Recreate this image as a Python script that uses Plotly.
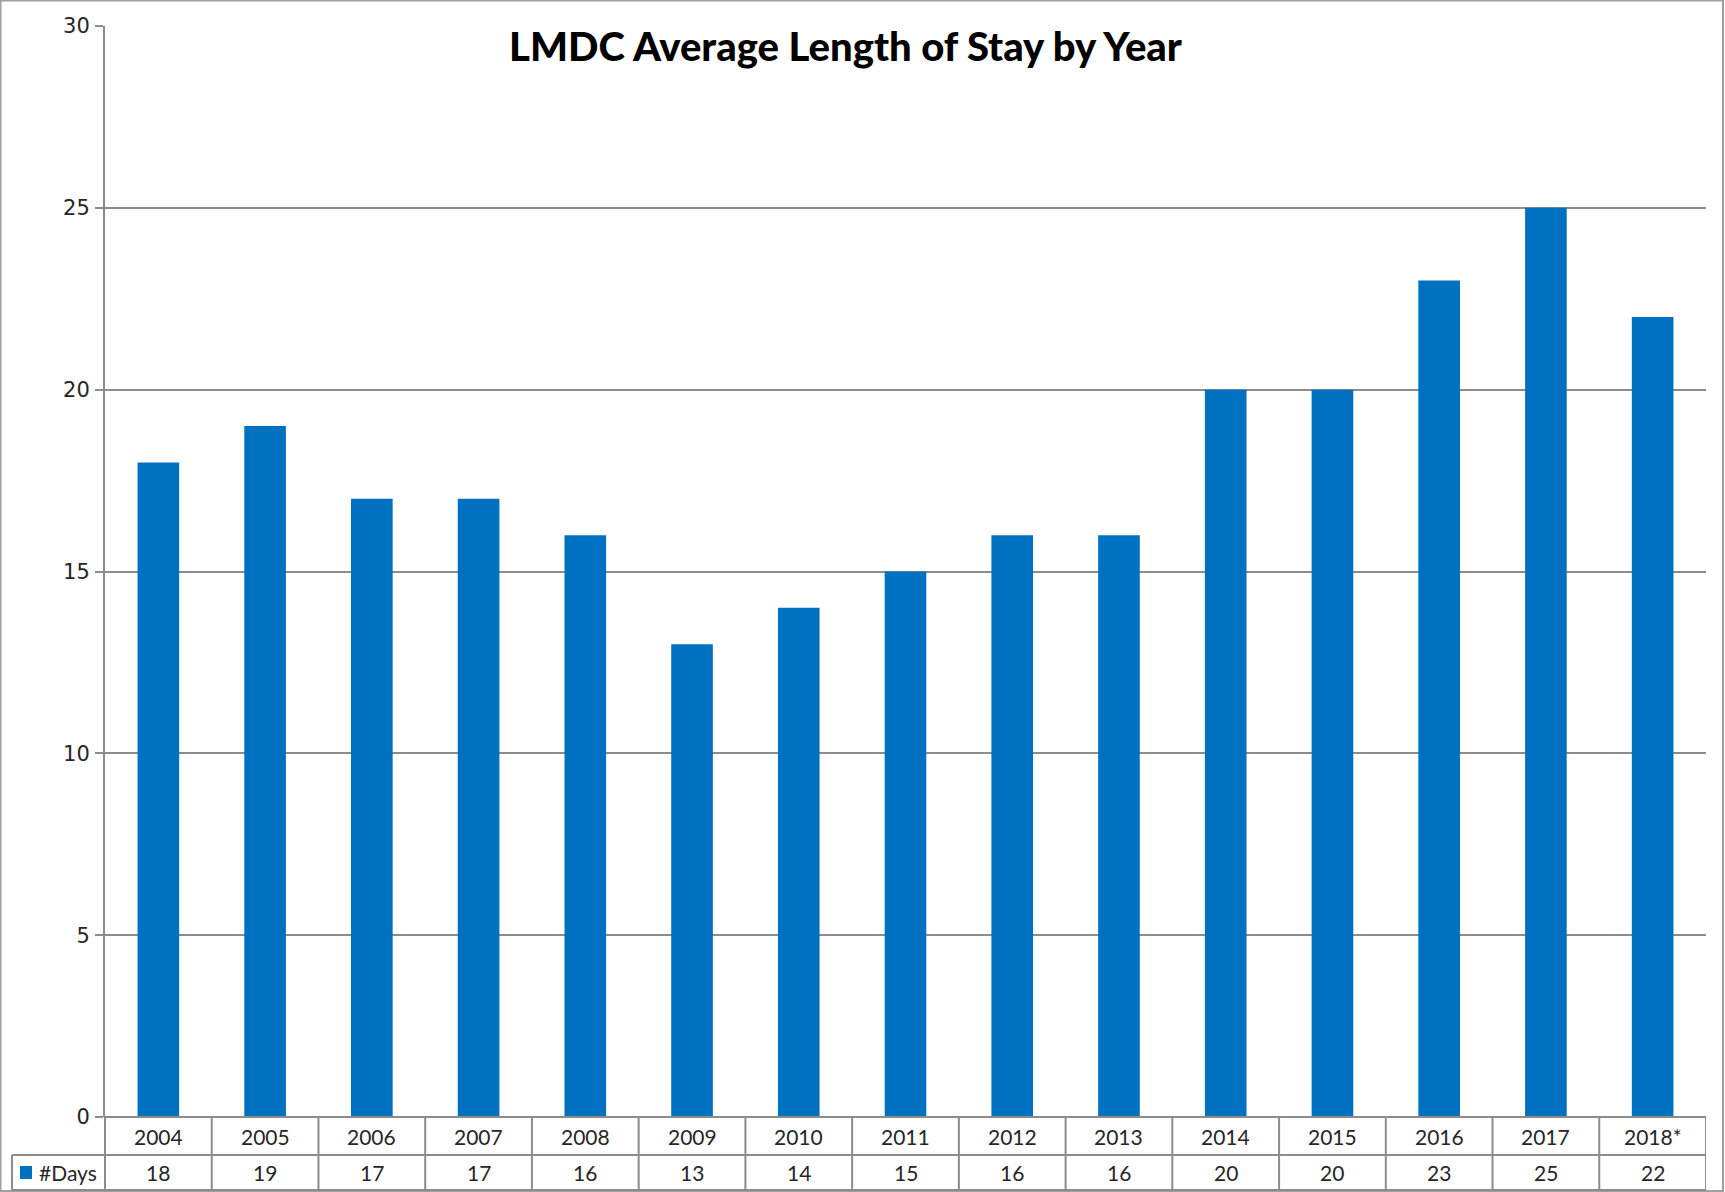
import plotly.graph_objects as go

years = ["2004", "2005", "2006", "2007", "2008", "2009", "2010", "2011",
         "2012", "2013", "2014", "2015", "2016", "2017", "2018*"]
days = [18, 19, 17, 17, 16, 13, 14, 15, 16, 16, 20, 20, 23, 25, 22]
series_name = "#Days"
title_text = "LMDC Average Length of Stay by Year"
y_ticks = [0, 5, 10, 15, 20, 25, 30]

W, H = 1725, 1192
BLUE = "#0070C0"
GRID = "#8C8C8C"
TXT = "#262626"

def px(x):
    return x / W

def py(y):
    return 1 - y / H

x_left, x_right = 105, 1706
y_top, y_zero = 26, 1117
row1_bottom, row2_bottom = 1155, 1190
legend_left = 12

fig = go.Figure()
fig.add_trace(go.Bar(x=list(range(len(years))), y=days, name=series_name,
                     marker=dict(color=BLUE, line=dict(width=0)),
                     hoverinfo="x+y"))

shapes = []
shapes.append(dict(type="rect", xref="paper", yref="paper",
                   x0=px(0.5), x1=px(1723), y0=py(1191), y1=py(0.5),
                   line=dict(color="#A0A0A0", width=2), layer="below"))
line_style = dict(color=GRID, width=2)
shapes.append(dict(type="line", xref="paper", yref="paper",
                   x0=px(x_left), x1=px(x_right), y0=py(y_zero), y1=py(y_zero),
                   line=line_style))
for yy in (row1_bottom, row2_bottom):
    shapes.append(dict(type="line", xref="paper", yref="paper",
                       x0=px(legend_left), x1=px(x_right), y0=py(yy), y1=py(yy),
                       line=line_style))
shapes.append(dict(type="line", xref="paper", yref="paper",
                   x0=px(x_left), x1=px(x_left), y0=py(y_zero), y1=py(row2_bottom),
                   line=line_style))
shapes.append(dict(type="line", xref="paper", yref="paper",
                   x0=px(legend_left), x1=px(legend_left), y0=py(row1_bottom), y1=py(row2_bottom),
                   line=line_style))
for i in range(len(years)):
    shapes.append(dict(type="line", xref="x", yref="paper",
                       x0=i + 0.5, x1=i + 0.5, y0=py(y_zero), y1=py(row2_bottom),
                       line=line_style))
shapes.append(dict(type="rect", xref="paper", yref="paper",
                   x0=px(20), x1=px(32), y0=py(1179), y1=py(1166),
                   fillcolor=BLUE, line=dict(width=0)))

annotations = []
cell_font = dict(family="Lato, Open Sans, sans-serif", size=21, color=TXT)
for i, (yr, d) in enumerate(zip(years, days)):
    annotations.append(dict(x=i, y=py((y_zero + row1_bottom) / 2), xref="x", yref="paper",
                            text=yr, showarrow=False, font=cell_font,
                            xanchor="center", yanchor="middle"))
    annotations.append(dict(x=i, y=py((row1_bottom + row2_bottom) / 2), xref="x", yref="paper",
                            text=str(d), showarrow=False, font=cell_font,
                            xanchor="center", yanchor="middle"))
annotations.append(dict(x=px(37), y=py((row1_bottom + row2_bottom) / 2), xref="paper", yref="paper",
                        text=series_name, showarrow=False, font=cell_font,
                        xanchor="left", yanchor="middle"))
annotations.append(dict(x=px(845), y=py(46), xref="paper", yref="paper",
                        text=title_text, showarrow=False,
                        font=dict(family="Lato, Open Sans, sans-serif", size=40,
                                  color="#000000", weight=900),
                        xanchor="center", yanchor="middle"))

fig.update_layout(
    width=W, height=H,
    margin=dict(l=0, r=0, t=0, b=0, pad=0, autoexpand=False),
    paper_bgcolor="white", plot_bgcolor="white",
    showlegend=False,
    bargap=0.61,
    shapes=shapes,
    annotations=annotations,
    xaxis=dict(domain=[px(x_left), px(x_right)], range=[-0.5, len(years) - 0.5],
               showticklabels=False, showgrid=False, zeroline=False, showline=False,
               ticks="", fixedrange=True, automargin=False),
    yaxis=dict(domain=[py(y_zero), py(y_top)], range=[0, 30], tickvals=y_ticks,
               showgrid=True, gridcolor=GRID, gridwidth=2, zeroline=False,
               showline=True, linecolor=GRID, linewidth=2,
               ticks="outside", ticklen=8, tickcolor=GRID, tickwidth=2,
               ticklabelstandoff=1, automargin=False,
               tickfont=dict(family="DejaVu Sans, Verdana, sans-serif", size=21, color=TXT),
               fixedrange=True),
)

fig.write_html("out.html", config={"displayModeBar": False},
               post_script="document.body.style.margin='0';document.body.style.padding='0';")
